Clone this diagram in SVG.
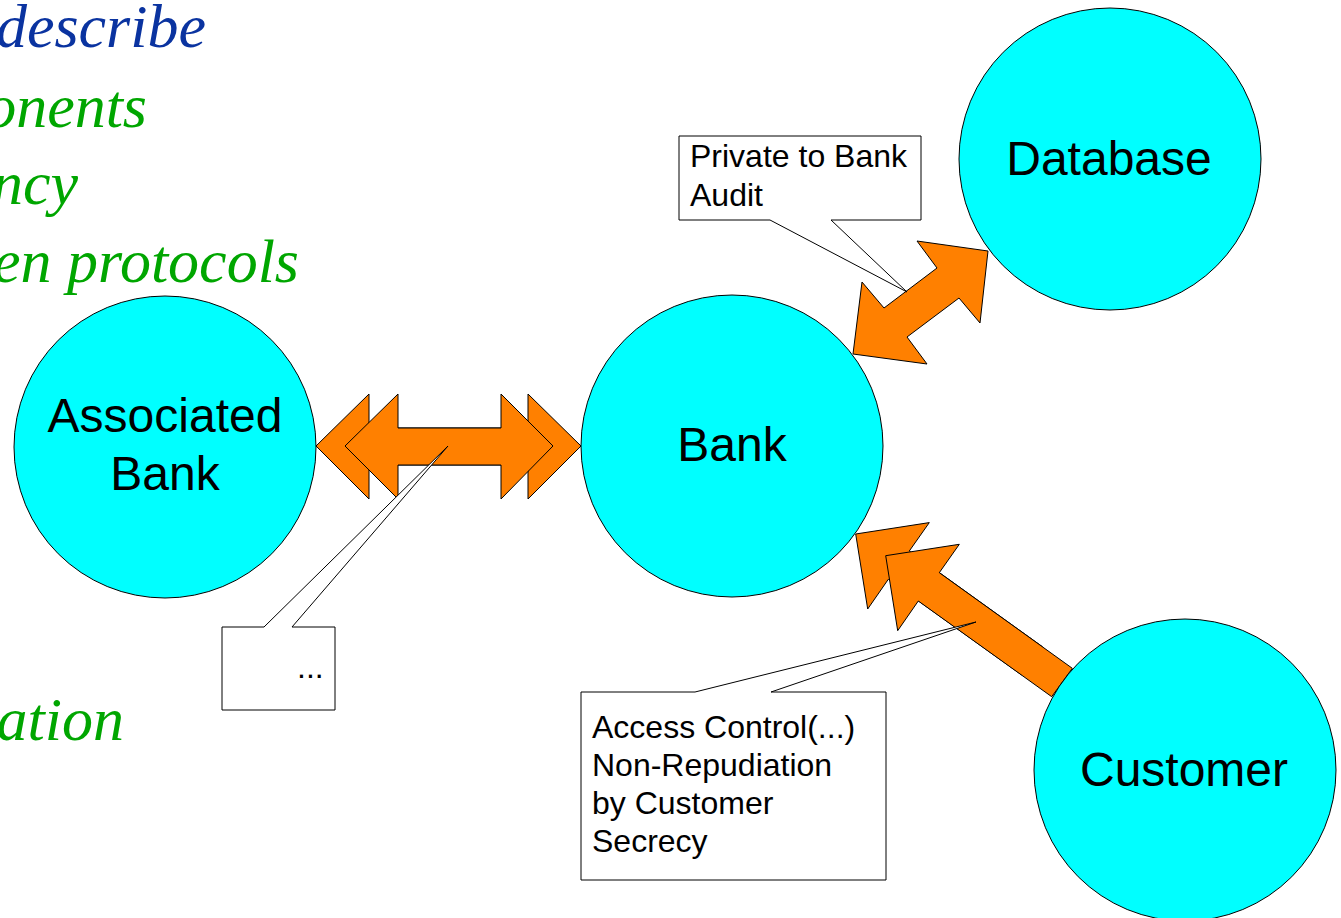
<svg xmlns="http://www.w3.org/2000/svg" width="1341" height="918" viewBox="0 0 1341 918">
<style>
.bg{fill:#ffffff}
.node{fill:#00ffff;stroke:#000;stroke-width:1}
.lbl{font-family:"Liberation Sans",Arial,sans-serif;font-size:48px;fill:#000;text-anchor:middle}
.arrow{fill:#ff8000;stroke:#000;stroke-width:1;stroke-linejoin:miter}
.call{fill:#fff;stroke:#000;stroke-width:1}
.ctext{font-family:"Liberation Sans",Arial,sans-serif;font-size:32px;fill:#000}
.slide{font-family:"Liberation Serif","Times New Roman",serif;font-style:italic;font-size:62px;text-anchor:end}
.blue{fill:#0a33a0}
.green{fill:#00a600}
</style>
<rect class="bg" x="0" y="0" width="1341" height="918"/>
<g id="slide-text">
<text class="slide blue" x="206" y="47">describe</text>
<text class="slide green" x="147" y="127">onents</text>
<text class="slide green" x="78" y="204">ncy</text>
<text class="slide green" x="299" y="282">en protocols</text>
<text class="slide green" x="124" y="740">ation</text>
</g>
<g id="connectors">
<polygon id="arrow-assoc-back" class="arrow" points="316,446 369,394 369,428 528,428 528,394 581,446 528,499 528,465 369,465 369,499"/>
<polygon id="arrow-assoc-front" class="arrow" points="345,446 398,394 398,428 501,428 501,394 553,446 501,499 501,465 398,465 398,499"/>
<polygon id="arrow-db" class="arrow" points="853,354 862,282 884,308 937,268 917,241 988,251 980,323 959,298 907,337 927,364"/>
<polygon id="arrow-cust-back" class="arrow" points="855.7,534 929.3,522.6 909.3,551 1042.3,646.6 1021.7,675 888.3,579.3 867.7,609"/>
<polygon id="arrow-cust-front" class="arrow" points="885.7,555.7 959.3,544.3 939.3,572.7 1072.3,668.3 1051.7,696.7 918.3,601 897.7,630.7"/>
</g>
<g id="node-associated-bank">
<circle class="node" cx="165" cy="447" r="151"/>
<text class="lbl" x="165" y="432">Associated</text>
<text class="lbl" x="165" y="490">Bank</text>
</g>
<g id="node-bank">
<circle class="node" cx="732" cy="446" r="151"/>
<text class="lbl" x="732" y="461">Bank</text>
</g>
<g id="node-database">
<circle class="node" cx="1110" cy="159" r="151"/>
<text class="lbl" x="1109" y="175">Database</text>
</g>
<g id="node-customer">
<circle class="node" cx="1185" cy="770" r="151"/>
<text class="lbl" x="1184" y="786">Customer</text>
</g>
<g id="callout-private">
<path class="call" d="M679,136 H921 V220 H831 L907,292 L770,220 H679 Z"/>
<text class="ctext" x="690" y="167">Private to Bank</text>
<text class="ctext" x="690" y="206">Audit</text>
</g>
<g id="callout-dots">
<path class="call" d="M222,627 H264 L448,446 L292,627 H335 V710 H222 Z"/>
<text class="ctext" x="297" y="678">...</text>
</g>
<g id="callout-access">
<path class="call" d="M581,692 H695 L976,622 L771,692 H886 V880 H581 Z"/>
<text class="ctext" x="592" y="738">Access Control(...)</text>
<text class="ctext" x="592" y="776">Non-Repudiation</text>
<text class="ctext" x="592" y="814">by Customer</text>
<text class="ctext" x="592" y="852">Secrecy</text>
</g>
</svg>
